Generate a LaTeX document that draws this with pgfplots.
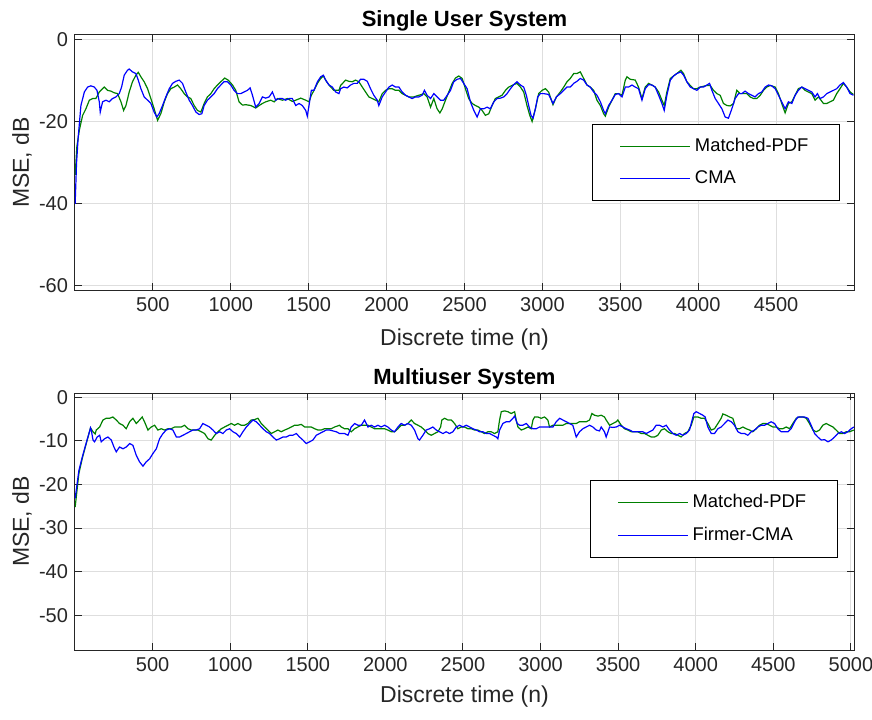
\documentclass[border=0pt]{standalone}
\usepackage{pgfplots}
\pgfplotsset{compat=1.18}
\usepackage{fontspec}
\setmainfont{Liberation Sans}
\definecolor{axgray}{rgb}{0.15,0.15,0.15}
\definecolor{gridgray}{rgb}{0.87,0.87,0.87}
\definecolor{mgreen}{rgb}{0,0.5,0}
\definecolor{mblue}{rgb}{0,0,1}
\pgfplotsset{
  mystyle/.style={
    scale only axis, width=389.5pt,
    axis line style={axgray, line width=0.5pt},
    tick style={axgray, line width=0.5pt},
    tick align=inside, major tick length=3.5pt,
    grid=major, major grid style={gridgray, line width=0.5pt},
    ticklabel style={font=\fontsize{10}{12}\selectfont, text=axgray},
    /pgf/number format/assume math mode=true,
    /pgf/number format/1000 sep={},
    label style={font=\fontsize{11.5}{13}\selectfont, text=axgray},
    title style={font=\bfseries\fontsize{11}{13}\selectfont, text=black, yshift=-7.5pt},
    xlabel={Discrete time (n)}, ylabel={MSE, dB},
    legend cell align=left,
    legend style={draw=black, line width=0.5pt, font=\fontsize{9.2}{11}\selectfont, text=black,
      inner xsep=13.5pt, inner ysep=5pt, row sep=4pt},
    legend image code/.code={\draw[#1, line width=0.6pt] (0pt,0pt) -- (35pt,0pt);},
  }
}
\begin{document}
\begin{tikzpicture}
\useasboundingbox (-37.5pt,-34.5pt) rectangle (398.5pt,325pt);
% ---------------- Top axis ----------------
\begin{axis}[mystyle,
  at={(0pt,180pt)}, anchor=south west,
  height=127.5pt,
  xmin=0, xmax=5000, ymin=-61, ymax=1.2,
  xtick={500,1000,1500,2000,2500,3000,3500,4000,4500},
  ytick={-60,-40,-20,0},
  title={Single User System},
  xlabel style={at={(axis description cs:0.5,-0.196)}, anchor=center},
  ylabel style={at={(axis description cs:-0.068,0.5)}, anchor=center},
  legend style={at={(0.982,0.651)}, anchor=north east},
]
\addplot[mgreen, line width=0.6pt] coordinates {
(1,-33) (12,-26) (28,-22) (49,-18.4) (70,-16.8) (92,-14.7) (113,-14.3) (134,-14.3) (156,-12.7) (177,-11.9)
(188,-11.5) (209,-12.3) (231,-12.5) (252,-12.9) (273,-13.1) (295,-15.1) (312,-17.2) (327,-16.0) (348,-12.7) (369,-10.2)
(391,-8.6) (406,-7.9) (423,-9.0) (444,-10.2) (466,-11.9) (487,-14.3) (508,-16.8) (530,-19.6) (551,-18.0) (573,-15.1)
(594,-13.1) (615,-11.9) (637,-11.5) (658,-11.0) (679,-11.9) (701,-13.1) (722,-13.9) (743,-14.3) (765,-16.0) (786,-17.2)
(808,-17.6) (829,-15.5) (850,-13.9) (872,-13.1) (893,-11.9) (914,-11.0) (936,-10.2) (961,-9.3) (983,-9.8) (1011,-11.0)
(1032,-12.3) (1053,-15.1) (1075,-15.9) (1096,-15.8) (1128,-16.0) (1160,-16.6) (1182,-16.0) (1203,-15.5) (1224,-15.1) (1256,-14.7)
(1278,-15.1) (1299,-14.3) (1331,-14.7) (1363,-14.3) (1395,-15.0) (1417,-14.7) (1449,-14.2) (1481,-14.7) (1502,-15.1) (1517,-13.5)
(1534,-12.3) (1556,-10.6) (1577,-9.4) (1594,-8.8) (1615,-10.2) (1641,-11.5) (1662,-12.3) (1694,-12.3)
(1705,-11.1) (1737,-9.8) (1758,-10.1) (1780,-10.2) (1801,-9.8) (1822,-10.2) (1844,-11.5) (1865,-12.7) (1886,-13.9) (1908,-14.3)
(1929,-14.7) (1950,-15.1) (1972,-13.1) (1993,-12.3) (2015,-11.9) (2036,-11.9) (2057,-12.3) (2079,-12.3) (2100,-13.1) (2121,-13.5)
(2143,-13.9) (2175,-13.9) (2207,-13.5) (2239,-13.1) (2260,-13.9) (2282,-16.4) (2303,-14.3) (2324,-16.8) (2342,-17.8) (2357,-16.8)
(2378,-14.7) (2399,-12.7) (2421,-10.6) (2442,-9.3) (2463,-8.8) (2485,-9.4) (2506,-11.9) (2527,-14.3) (2549,-15.5) (2570,-16.0)
(2592,-16.4) (2613,-17.2) (2634,-18.4) (2656,-18.0) (2677,-16.0) (2698,-14.3) (2720,-13.9) (2741,-13.5) (2763,-12.3) (2784,-11.5)
(2816,-10.9) (2837,-10.6) (2859,-11.5) (2880,-12.7) (2901,-16.0) (2919,-18.4) (2934,-19.9) (2955,-16.8) (2976,-13.1) (2998,-12.3)
(3019,-11.9) (3040,-12.7) (3068,-15.8) (3090,-13.9) (3115,-12.7) (3137,-11.5) (3158,-10.2) (3179,-9.4) (3201,-8.2) (3222,-8.2)
(3243,-7.8) (3265,-9.4) (3286,-11.0) (3307,-11.5) (3329,-12.3)
(3350,-14.7) (3372,-16.0) (3393,-18.0) (3404,-18.6) (3425,-16.4) (3447,-14.7) (3468,-13.1) (3489,-13.1) (3511,-13.5) (3532,-9.8)
(3543,-9.0) (3564,-9.6) (3596,-9.8) (3617,-11.5) (3639,-14.3) (3660,-11.5) (3682,-10.6) (3703,-11.0) (3724,-11.5) (3746,-12.7)
(3767,-14.7) (3782,-16.0) (3799,-12.7) (3821,-9.4) (3842,-8.8) (3863,-8.2) (3889,-7.4) (3906,-8.2) (3927,-10.2) (3949,-11.1)
(3970,-11.9) (3991,-11.9) (4013,-11.5) (4056,-11.1) (4077,-11.1) (4098,-12.3) (4120,-13.1) (4141,-13.5) (4162,-15.5) (4184,-16.0)
(4205,-16.1) (4227,-15.5) (4248,-12.3) (4269,-13.1) (4291,-13.1) (4312,-13.1) (4333,-13.9) (4355,-14.3) (4376,-14.3) (4398,-13.5)
(4419,-12.3) (4440,-11.5) (4462,-11.1) (4494,-11.5) (4515,-13.1) (4536,-15.5) (4558,-17.8) (4579,-15.5) (4601,-15.1) (4622,-13.5)
(4643,-11.9) (4665,-11.5) (4686,-12.3) (4707,-12.7) (4729,-13.1) (4750,-14.7) (4772,-13.9) (4804,-15.5) (4825,-15.5) (4846,-15.1)
(4868,-14.7) (4889,-13.1) (4910,-11.9) (4932,-10.6) (4953,-11.5) (4975,-12.7) (4996,-13.3)
};
\addlegendentry{Matched-PDF}
\addplot[mblue, line width=0.6pt] coordinates {
(1,-40) (10,-30) (20,-24) (38,-16.0) (60,-12.7) (81,-11.5) (102,-11.2) (124,-11.5) (141,-12.3) (156,-15.1)
(162,-17.6) (177,-15.1) (199,-14.7) (220,-15.1) (241,-14.3) (263,-13.9) (284,-13.1) (299,-11.5) (316,-8.6) (337,-7.4)
(348,-7.1) (369,-7.8) (391,-8.2) (406,-9.8) (423,-11.9) (444,-13.9) (466,-14.7) (487,-15.5) (508,-17.6) (525,-18.8)
(540,-18.0) (562,-16.0) (583,-13.9) (605,-11.9) (626,-10.6) (647,-10.1) (669,-9.8) (690,-10.6) (711,-12.7) (733,-14.7)
(754,-16.0) (776,-17.6) (797,-18.2) (814,-18.0) (829,-16.0) (850,-14.7) (872,-13.9) (893,-13.1) (914,-11.9) (936,-11.0)
(957,-10.2) (978,-10.2) (1000,-11.0) (1021,-12.3) (1043,-13.1) (1064,-13.1) (1085,-12.7) (1107,-12.3) (1124,-11.7) (1139,-13.5)
(1160,-16.4) (1182,-15.5) (1203,-13.9) (1224,-14.2) (1246,-13.9) (1267,-12.7) (1288,-14.7) (1310,-14.3) (1331,-14.3) (1352,-14.7)
(1374,-14.3) (1395,-14.3) (1417,-16.0) (1438,-15.5) (1459,-16.0) (1481,-17.2) (1491,-18.6) (1502,-16.0) (1517,-12.3) (1534,-12.3)
(1556,-10.2) (1577,-9.0) (1594,-8.6) (1609,-9.8) (1630,-11.0) (1652,-11.5) (1673,-12.7) (1694,-13.1)
(1705,-11.9) (1726,-11.5) (1747,-11.7) (1769,-11.0) (1790,-10.6) (1812,-10.6) (1833,-9.6) (1854,-9.6) (1876,-10.1) (1897,-11.9)
(1918,-13.5) (1940,-14.7) (1950,-16.0) (1972,-13.9) (1993,-12.7) (2015,-11.5) (2036,-11.0) (2057,-11.5) (2079,-11.5) (2100,-12.7)
(2121,-13.5) (2143,-13.9) (2164,-14.3) (2186,-13.9) (2207,-13.9) (2228,-13.5) (2243,-12.3) (2260,-13.5) (2282,-14.3) (2303,-13.1)
(2324,-13.9) (2346,-14.7) (2367,-14.7) (2389,-13.5) (2410,-12.3) (2431,-10.2) (2453,-9.6) (2474,-9.4) (2495,-10.6) (2517,-11.9)
(2538,-15.1) (2560,-17.2) (2581,-18.8) (2602,-16.8) (2624,-16.8) (2645,-16.4) (2666,-16.8) (2688,-15.1) (2709,-14.3) (2731,-14.2)
(2752,-13.9) (2773,-13.1) (2795,-11.9) (2816,-10.9) (2837,-10.2) (2859,-11.0) (2880,-11.5) (2897,-13.5) (2912,-16.0) (2927,-18.4)
(2940,-19.1) (2955,-16.8) (2970,-13.9) (2987,-13.1) (3008,-13.1) (3040,-13.3) (3068,-15.5) (3090,-13.9) (3115,-13.1) (3137,-12.3)
(3158,-11.5) (3179,-11.5) (3201,-10.6) (3222,-10.1) (3243,-9.4) (3265,-9.8) (3286,-11.0) (3307,-11.5) (3329,-12.7)
(3350,-13.5) (3372,-15.1) (3393,-17.2) (3404,-18.0) (3425,-16.0) (3447,-14.7) (3468,-13.3) (3489,-13.1) (3511,-13.9) (3532,-11.5)
(3553,-11.5) (3575,-11.0) (3596,-11.5) (3617,-11.9) (3639,-14.7) (3660,-11.9) (3682,-10.9) (3703,-11.0) (3724,-11.5) (3746,-13.5)
(3767,-15.5) (3782,-17.2) (3799,-13.5) (3821,-9.8) (3842,-8.8) (3863,-8.2) (3889,-7.8) (3906,-8.6) (3927,-10.2) (3949,-11.5)
(3970,-11.9) (3991,-12.3) (4013,-11.5) (4034,-11.5) (4056,-11.0) (4073,-10.6) (4088,-12.3) (4109,-14.3) (4130,-15.5) (4152,-16.8)
(4173,-18.8) (4194,-19.1) (4216,-16.8) (4237,-14.3) (4259,-13.1) (4280,-13.1) (4301,-12.5) (4323,-13.1) (4344,-13.5) (4365,-13.9)
(4387,-13.1) (4408,-12.7) (4430,-11.5) (4451,-11.0) (4472,-11.2) (4494,-11.9) (4515,-13.5) (4536,-15.1) (4558,-16.8) (4579,-15.1)
(4601,-15.5) (4622,-13.5) (4643,-12.3) (4665,-11.5) (4686,-11.9) (4707,-12.3) (4729,-12.7) (4750,-13.9) (4765,-13.1) (4782,-14.3)
(4804,-13.9) (4825,-13.1) (4846,-12.7) (4868,-12.3) (4889,-11.9) (4910,-11.0) (4932,-10.4) (4953,-11.5) (4975,-13.1) (4996,-13.5)
};
\addlegendentry{CMA}
\end{axis}
% ---------------- Bottom axis ----------------
\begin{axis}[mystyle,
  at={(0pt,0pt)}, anchor=south west,
  height=128.5pt,
  xmin=0, xmax=5020, ymin=-58, ymax=1,
  xtick={500,1000,1500,2000,2500,3000,3500,4000,4500,5000},
  ytick={-50,-40,-30,-20,-10,0},
  title={Multiuser System},
  xlabel style={at={(axis description cs:0.5,-0.183)}, anchor=center},
  ylabel style={at={(axis description cs:-0.068,0.5)}, anchor=center},
  legend style={at={(0.979,0.661)}, anchor=north east},
]
\addplot[mgreen, line width=0.6pt] coordinates {
(1,-25.2) (25,-17.5) (47,-14) (68,-11.2) (90,-8.3) (100,-7.0) (116,-7.9) (130,-8.4) (137,-7.5) (159,-6.8)
(180,-5.2) (201,-4.8) (223,-4.8) (244,-4.5) (266,-5.2) (287,-6.0) (309,-6.4) (330,-7.2) (352,-5.6) (373,-4.8)
(395,-6.0) (416,-5.2) (433,-4.5) (448,-5.6) (470,-7.5) (491,-6.8) (513,-6.4) (534,-7.5) (556,-7.2) (577,-7.5)
(599,-7.2) (620,-7.2) (642,-6.8) (663,-6.8) (685,-6.8) (706,-6.4) (728,-7.2) (749,-7.5) (771,-7.5) (792,-7.5)
(814,-7.9) (835,-8.3) (857,-9.5) (878,-9.8) (900,-8.7) (921,-7.9) (943,-7.2) (964,-6.8) (986,-6.4) (1007,-6.0)
(1028,-6.4) (1050,-6.0) (1071,-6.4) (1093,-6.4) (1114,-6.0) (1136,-5.2) (1157,-5.1) (1179,-4.8) (1200,-6.0) (1222,-6.8)
(1243,-7.5) (1265,-8.3) (1286,-7.9) (1308,-7.5) (1329,-7.9) (1351,-7.5) (1372,-7.2) (1394,-6.8) (1415,-6.4) (1437,-6.4)
(1458,-6.2) (1480,-6.8) (1501,-6.8) (1523,-6.8) (1544,-7.2) (1565,-7.5) (1587,-7.5) (1608,-7.2) (1630,-7.2) (1651,-7.2)
(1673,-6.8) (1705,-6.4)
(1716,-6.8) (1737,-7.2) (1759,-7.2) (1780,-7.9) (1802,-7.2) (1823,-6.8) (1845,-6.4) (1866,-6.4) (1888,-6.4) (1909,-6.8)
(1930,-7.2) (1952,-7.2) (1973,-7.2) (1995,-7.2) (2016,-7.5) (2038,-7.9) (2059,-7.9) (2081,-7.2) (2102,-6.4) (2124,-6.4)
(2145,-6.0) (2167,-5.2) (2188,-6.0) (2210,-6.4) (2231,-6.8) (2253,-7.5) (2274,-8.3) (2296,-8.7) (2317,-8.3) (2339,-7.9)
(2356,-6.8) (2364,-5.2) (2382,-4.8) (2403,-5.2) (2425,-5.2) (2446,-6.0) (2467,-7.2) (2489,-6.8) (2510,-6.8) (2532,-7.2)
(2553,-7.2) (2575,-7.5) (2596,-7.5) (2618,-7.9) (2639,-8.3) (2661,-7.9) (2682,-7.9) (2704,-8.3) (2725,-7.9) (2736,-5.2)
(2747,-3.3) (2768,-3.1) (2790,-3.3) (2811,-3.7) (2833,-3.3) (2843,-5.2) (2854,-6.8) (2876,-7.5) (2897,-7.2) (2919,-6.8)
(2940,-7.2) (2951,-5.2) (2962,-4.5) (2983,-4.5) (3004,-4.8) (3026,-4.5) (3047,-5.2) (3058,-6.8) (3080,-6.4) (3101,-6.4)
(3123,-6.4) (3144,-6.4) (3166,-6.0) (3187,-6.0) (3208,-6.0) (3230,-6.0) (3251,-5.6) (3273,-5.6) (3294,-5.6) (3316,-5.2)
(3331,-3.7) (3348,-4.1) (3370,-4.3)
(3391,-4.1) (3412,-4.5) (3423,-5.2) (3445,-6.4) (3466,-6.0) (3488,-5.6) (3498,-5.2) (3520,-6.4) (3541,-7.2) (3563,-7.5)
(3584,-7.9) (3606,-7.9) (3627,-7.9) (3649,-8.3) (3670,-8.3) (3692,-8.7) (3713,-9.1) (3735,-9.1) (3756,-8.7) (3778,-7.5)
(3799,-7.2) (3821,-7.9) (3842,-8.3) (3864,-8.3) (3885,-8.7) (3906,-9.1) (3928,-8.3) (3949,-7.9) (3971,-6.4) (3988,-4.5)
(4014,-4.5) (4035,-4.8) (4057,-4.8) (4078,-6.0) (4100,-7.5) (4121,-7.2) (4143,-6.0) (4164,-4.8) (4175,-3.8) (4196,-4.1)
(4218,-4.5) (4239,-4.8) (4261,-7.2) (4282,-7.2) (4304,-6.8) (4325,-7.2) (4347,-7.5) (4368,-7.9) (4390,-7.2) (4411,-6.4)
(4433,-6.0) (4454,-6.0) (4476,-6.4) (4497,-6.8) (4519,-6.8) (4540,-7.2) (4562,-7.2) (4583,-6.8) (4605,-7.2) (4626,-6.0)
(4648,-4.8) (4669,-4.5) (4691,-4.5) (4712,-4.8) (4733,-6.0) (4755,-7.5) (4776,-7.9) (4798,-7.5) (4819,-6.4) (4841,-6.0)
(4862,-6.4) (4884,-6.8) (4905,-7.5) (4927,-8.3) (4948,-8.3) (4970,-7.9) (4991,-7.9) (5019,-7.5)
};
\addlegendentry{Matched-PDF}
\addplot[mblue, line width=0.6pt] coordinates {
(1,-23.2) (25,-16.8) (47,-13.7) (68,-11.0) (90,-8.3) (100,-7.0) (105,-7.5) (116,-9.8) (126,-10.2) (143,-9.1)
(159,-8.7) (169,-10.2) (191,-9.5) (212,-9.1) (234,-9.8) (251,-11.4) (266,-12.5) (287,-11.4) (309,-11.8) (330,-11.4)
(352,-10.6) (373,-11.0) (395,-13.3) (416,-14.8) (438,-15.8) (459,-14.8) (481,-14.1) (502,-12.9) (524,-11.8) (545,-9.5)
(567,-8.3) (588,-7.5) (610,-7.2) (631,-7.5) (653,-9.1) (674,-9.1) (696,-8.7) (717,-8.3) (738,-7.9) (760,-7.5)
(781,-7.5) (803,-7.2) (824,-6.0) (846,-6.4) (867,-6.8) (889,-7.5) (910,-8.3) (932,-7.9) (953,-8.3) (975,-7.5)
(996,-7.2) (1018,-7.9) (1039,-8.3) (1061,-9.1) (1082,-7.9) (1104,-6.8) (1125,-6.0) (1147,-5.2) (1168,-5.6) (1190,-6.4)
(1211,-7.2) (1233,-7.9) (1254,-8.3) (1276,-9.1) (1297,-9.8) (1318,-9.5) (1340,-9.1) (1361,-9.1) (1383,-8.7) (1404,-8.7)
(1426,-8.3) (1447,-9.1) (1469,-9.8) (1490,-10.6) (1512,-10.2) (1533,-9.8) (1555,-8.7) (1576,-8.3) (1598,-7.9) (1619,-7.5)
(1641,-7.5) (1662,-7.7) (1684,-7.9) (1705,-8.3)
(1716,-8.3) (1737,-8.3) (1759,-8.7) (1780,-6.8) (1802,-6.0) (1823,-6.4) (1845,-6.4) (1866,-5.2) (1888,-6.8) (1909,-6.4)
(1930,-6.8) (1952,-6.4) (1973,-6.8) (1995,-6.4) (2016,-6.8) (2038,-7.5) (2059,-7.9) (2081,-6.8) (2102,-6.0) (2124,-6.4)
(2145,-6.0) (2167,-6.4) (2188,-7.5) (2210,-9.5) (2220,-9.8) (2242,-8.7) (2263,-7.5) (2285,-7.2) (2306,-6.8) (2328,-7.5)
(2349,-7.9) (2371,-8.3) (2392,-7.9) (2414,-8.3) (2435,-7.9) (2457,-6.8) (2478,-6.4) (2500,-6.8) (2521,-6.4) (2543,-6.8)
(2564,-7.2) (2586,-7.5) (2607,-7.9) (2629,-7.9) (2650,-8.3) (2672,-8.3) (2693,-8.7) (2715,-9.1) (2725,-9.5) (2736,-7.5)
(2757,-6.0) (2779,-5.6) (2800,-5.6) (2822,-4.8) (2833,-4.3) (2850,-6.0) (2865,-6.4) (2886,-6.4) (2908,-6.0) (2929,-6.8)
(2951,-7.2) (2972,-7.2) (2994,-6.8) (3015,-6.8) (3037,-6.8) (3058,-6.8) (3080,-6.8) (3101,-5.6) (3123,-4.8) (3144,-5.2)
(3166,-5.6) (3187,-6.0) (3208,-6.4) (3230,-9.1) (3251,-7.9) (3273,-7.2) (3294,-6.8) (3316,-6.4) (3337,-6.8) (3359,-7.5)
(3380,-7.7) (3391,-6.8) (3412,-7.9) (3423,-9.1) (3445,-6.8) (3466,-6.9) (3488,-6.8) (3509,-6.4) (3531,-6.8) (3552,-7.2)
(3574,-7.5) (3595,-7.9) (3617,-7.9) (3638,-7.9) (3659,-7.9) (3681,-8.3) (3702,-7.9) (3724,-7.5) (3745,-6.4) (3767,-6.4)
(3788,-6.8) (3810,-6.4) (3831,-7.5) (3853,-8.3) (3874,-8.7) (3896,-8.3) (3917,-8.7) (3939,-8.3) (3960,-7.5) (3971,-6.0)
(3988,-3.7) (4003,-3.3) (4025,-3.7) (4046,-4.1) (4061,-4.5) (4078,-6.8) (4100,-8.3) (4121,-8.3) (4143,-7.2) (4164,-6.8)
(4186,-6.0) (4207,-5.2) (4229,-5.6) (4250,-6.4) (4272,-7.9) (4293,-8.3) (4315,-8.3) (4336,-8.7) (4358,-7.9) (4379,-7.5)
(4401,-6.8) (4422,-6.4) (4443,-6.4) (4465,-6.0) (4486,-5.6) (4508,-6.0) (4529,-7.2) (4551,-7.9) (4572,-7.9) (4594,-7.9)
(4615,-7.2) (4637,-5.6) (4658,-4.5) (4680,-4.5) (4701,-4.5) (4723,-4.8) (4744,-6.4) (4766,-8.3) (4787,-9.1) (4809,-9.8)
(4830,-9.7) (4852,-10.2) (4873,-9.8) (4895,-9.1) (4916,-8.3) (4938,-7.9) (4959,-8.3) (4980,-7.9) (5002,-7.2) (5019,-6.8)
};
\addlegendentry{Firmer-CMA}
\end{axis}
\end{tikzpicture}
\end{document}
